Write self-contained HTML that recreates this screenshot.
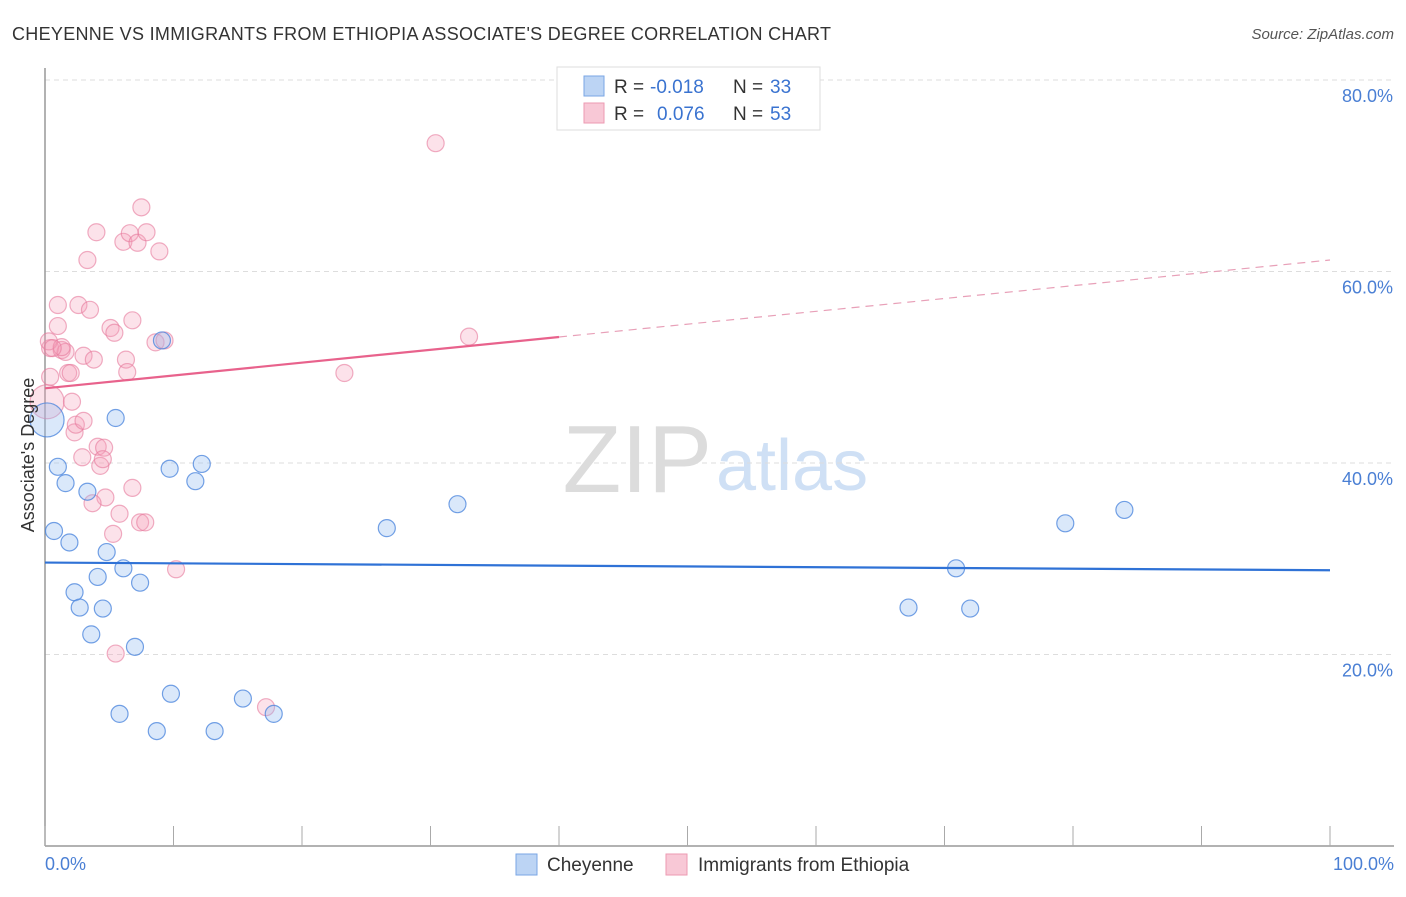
<!DOCTYPE html>
<html><head><meta charset="utf-8"><style>
body{margin:0;background:#fff;font-family:"Liberation Sans",sans-serif}
svg text{font-family:"Liberation Sans",sans-serif}
</style></head><body>
<svg width="1406" height="892" viewBox="0 0 1406 892" xmlns="http://www.w3.org/2000/svg">
<text x="12" y="40" font-size="18" fill="#333" textLength="819" lengthAdjust="spacing">CHEYENNE VS IMMIGRANTS FROM ETHIOPIA ASSOCIATE'S DEGREE CORRELATION CHART</text>
<text x="1394" y="39" font-size="15" fill="#555" text-anchor="end" font-style="italic">Source: ZipAtlas.com</text>
<text x="712" y="492" font-size="96" fill="#dcdcdc" text-anchor="end" font-family="Liberation Serif">ZIP</text>
<text x="716" y="490" font-size="72" fill="#cfe0f5">atlas</text>
<g id="grid"></g>
<g id="axes"></g>
<g id="marks"></g>
<text x="34" y="455" font-size="18" fill="#333" text-anchor="middle" transform="rotate(-90 34 455)">Associate's Degree</text>
<text x="45" y="870" font-size="18" fill="#4a7fd4">0.0%</text>
<text x="1394" y="870" font-size="18" fill="#4a7fd4" text-anchor="end">100.0%</text>
<g>
<rect x="557" y="67" width="263" height="63" fill="#fff" stroke="#ddd"/>
<rect x="584" y="76" width="20" height="20" fill="#bcd4f4" stroke="#7aa6e4"/>
<text x="614" y="93" font-size="19" fill="#333">R =</text>
<text x="650" y="93" font-size="19" fill="#3a73d0">-0.018</text>
<text x="733" y="93" font-size="19" fill="#333">N =</text>
<text x="770" y="93" font-size="19" fill="#3a73d0">33</text>
<rect x="584" y="103" width="20" height="20" fill="#f8c8d6" stroke="#ec9ab2"/>
<text x="614" y="120" font-size="19" fill="#333">R =</text>
<text x="657" y="120" font-size="19" fill="#3a73d0">0.076</text>
<text x="733" y="120" font-size="19" fill="#333">N =</text>
<text x="770" y="120" font-size="19" fill="#3a73d0">53</text>
</g>
<g>
<rect x="516" y="854" width="21" height="21" fill="#bcd4f4" stroke="#7aa6e4"/>
<text x="547" y="871" font-size="19" fill="#333">Cheyenne</text>
<rect x="666" y="854" width="21" height="21" fill="#f8c8d6" stroke="#ec9ab2"/>
<text x="698" y="871" font-size="19" fill="#333">Immigrants from Ethiopia</text>
</g>
</svg>
<script>
const yTicks=[20,40,60,80];
const xTicks=[0,10,20,30,40,50,60,70,80,90,100];
const blueX=[0.16,1.0,1.6,0.7,1.9,3.3,5.5,4.8,4.1,6.1,7.4,2.3,2.7,4.5,3.6,7.0,9.7,11.7,12.2,9.1,5.8,8.7,9.8,13.2,15.4,17.8,26.6,32.1,67.2,70.9,72.0,79.4,84.0];
const blueY=[44.5,39.6,37.9,32.9,31.7,37.0,44.7,30.7,28.1,29.0,27.5,26.5,24.9,24.8,22.1,20.8,39.4,38.1,39.9,52.8,13.8,12.0,15.9,12.0,15.4,13.8,33.2,35.7,24.9,29.0,24.8,33.7,35.1];
const pinkX=[0.16,0.4,0.4,1.0,1.0,1.3,1.6,1.8,2.0,2.1,2.3,2.4,2.6,2.9,3.0,3.0,3.3,3.5,3.8,4.0,4.1,4.3,4.6,4.5,4.7,3.7,5.1,5.4,5.3,5.5,5.8,6.1,6.3,6.4,6.6,6.8,6.8,7.2,7.5,7.4,7.8,7.9,8.6,8.9,9.3,10.2,17.2,23.3,30.4,33.0,0.3,1.3,0.6];
const pinkY=[46.4,52.0,49.0,56.5,54.3,51.8,51.6,49.4,49.4,46.4,43.2,44.0,56.5,40.6,51.2,44.4,61.2,56.0,50.8,64.1,41.7,39.7,41.6,40.4,36.4,35.8,54.1,53.6,32.6,20.1,34.7,63.1,50.8,49.5,64.0,37.4,54.9,63.0,66.7,33.8,33.8,64.1,52.6,62.1,52.8,28.9,14.5,49.4,73.4,53.2,52.7,52.1,52.0];
const blueTrend=[29.6,28.8];
const pinkTrend=[47.8,61.2];
const pinkSolidEnd=40;
const NS="http://www.w3.org/2000/svg";
const xS=v=>45+v*12.85, yS=v=>846-v*9.575;
function mk(tag,attrs,parent){const e=document.createElementNS(NS,tag);for(const k in attrs)e.setAttribute(k,attrs[k]);parent.appendChild(e);return e;}
const grid=document.getElementById('grid'),axes=document.getElementById('axes'),marks=document.getElementById('marks');
yTicks.forEach(t=>{
 const l=mk('line',{x1:45,x2:1394,y1:yS(t),y2:yS(t),stroke:'#ddd','stroke-dasharray':'5,4'},grid);
 
 
 const tx=mk('text',{x:1393,y:yS(t)+22,'font-size':18,fill:'#4a7fd4','text-anchor':'end'},grid);
 tx.textContent=t.toFixed(1)+'%';
 
 
});
const ya=mk('line',{x1:45,x2:45,y1:68,y2:846,stroke:'#999','stroke-width':1.5},axes);


const xa=mk('line',{x1:45,x2:1394,y1:846,y2:846,stroke:'#999','stroke-width':1.5},axes);


xTicks.forEach(t=>{
 const l=mk('line',{x1:xS(t),x2:xS(t),y1:826,y2:846,stroke:'#aaa'},axes);
 
 
});
function dot(x,y,big,fill,stroke,name){
 const c=mk('circle',{cx:xS(x),cy:yS(y),r:big?17:8.5,fill:fill,stroke:stroke,'stroke-width':1.2},marks);
 
 
}
pinkX.forEach((x,i)=>dot(x,pinkY[i],i===0,'rgba(244,160,185,0.3)','rgba(230,120,155,0.6)','ethiopia-point'));
blueX.forEach((x,i)=>dot(x,blueY[i],i===0,'rgba(150,190,240,0.35)','rgba(70,130,220,0.75)','cheyenne-point'));
const bt=mk('line',{x1:xS(0),x2:xS(100),y1:yS(blueTrend[0]),y2:yS(blueTrend[1]),stroke:'#2f72d6','stroke-width':2.2},marks);


const pm=pinkTrend[0]+(pinkTrend[1]-pinkTrend[0])*pinkSolidEnd/100;
const pt=mk('line',{x1:xS(0),x2:xS(pinkSolidEnd),y1:yS(pinkTrend[0]),y2:yS(pm),stroke:'#e8628c','stroke-width':2.2},marks);


const pd=mk('line',{x1:xS(pinkSolidEnd),x2:xS(100),y1:yS(pm),y2:yS(pinkTrend[1]),stroke:'#e8a0b8','stroke-width':1.2,'stroke-dasharray':'8,6'},marks);


</script>
</body></html>
